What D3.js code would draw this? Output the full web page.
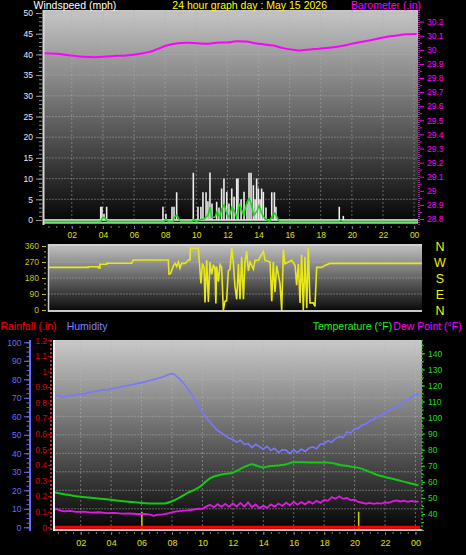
<!DOCTYPE html>
<html><head><meta charset="utf-8">
<script src="https://cdn.jsdelivr.net/npm/d3@7"></script>
<style>
body{margin:0;background:#000;}
svg{display:block;}
text{font-family:"Liberation Sans",Arial,sans-serif;}
</style>
</head><body>
<svg id="c" width="466" height="555"></svg>
<script>
// ---------------- DATA ----------------
const titleMain = "24 hour graph day : May 15 2026";
const hourTicks = [2,4,6,8,10,12,14,16,18,20,22,24];
const hourLabels = ["02","04","06","08","10","12","14","16","18","20","22","00"];

const windTicks = [0,5,10,15,20,25,30,35,40,45,50];
const baroTicks = [28.8,28.9,29.0,29.1,29.2,29.3,29.4,29.5,29.6,29.7,29.8,29.9,30.0,30.1,30.2];
const baroLabels = ["28.8","28.9","29","29.1","29.2","29.3","29.4","29.5","29.6","29.7","29.8","29.9","30","30.1","30.2"];
const dirTicks = [0,90,180,270,360];
const compassLabels = ["N","W","S","E","N"];
const humTicks = [0,10,20,30,40,50,60,70,80,90,100];
const rainTicks = [0,0.1,0.2,0.3,0.4,0.5,0.6,0.7,0.8,0.9,1.0,1.1,1.2];
const rainLabels = ["0","0.1","0.2","0.3","0.4","0.5","0.6","0.7","0.8","0.9","1","1.1","1.2"];
const tempTicks = [40,50,60,70,80,90,100,110,120,130,140];

// wind gusts (hour, mph)
const gustTime  = [3.86,3.94,4.07,4.24,7.86,8.05,8.44,8.57,8.74,9.81,10.11,10.30,10.43,10.63,10.75,10.88,11.01,11.31,11.46,11.63,11.78,11.96,12.10,12.28,12.43,12.60,12.68,12.88,13.07,13.26,13.39,13.52,13.67,13.78,13.88,13.99,14.10,14.20,14.31,14.48,14.85,15.02,15.12,19.19,19.45];
const gustValue = [3.2,3.2,1.5,3.2,3.2,1.5,3.2,3.2,6.7,11.4,3.2,3.2,6.7,6.7,4.5,11.5,4.0,4.4,3.0,7.6,10.0,6.8,4.0,7.6,5.6,10.0,10.0,5.0,6.8,4.0,11.4,11.4,8.4,5.0,10.0,7.6,5.0,7.6,6.8,3.0,6.7,6.7,3.2,3.2,1.0];
// average wind (hour, mph)
const avgTime  = [0.15,3.85,4.0,4.15,4.3,7.9,8.05,8.2,8.5,8.6,8.75,8.9,9.0,9.7,9.85,10.0,10.2,10.5,10.75,10.9,11.0,11.2,11.35,11.5,11.65,11.8,11.95,12.1,12.3,12.45,12.6,12.75,12.9,13.05,13.25,13.4,13.55,13.7,13.9,14.05,14.2,14.35,14.5,14.7,14.9,15.05,15.2,15.35,19.2,19.3,19.4,24.25];
const avgValue = [0,0,1.0,0.8,0,0,0.6,0,0,1.2,1.5,0.5,0,0,0.5,0,0.4,0.6,1.5,3.5,1.0,1.0,2.5,1.0,3.1,4.0,2.0,1.0,3.5,2.5,1.0,4.2,3.0,1.5,4.5,5.6,4.0,1.5,2.5,3.9,2.0,1.0,0.5,0,1.5,2.0,1.0,0,0,0.3,0,0];
// barometer (hour, inHg)
const baroTime  = [0.17,1.0,1.8,2.74,3.5,4.2,4.89,5.5,6.17,7.0,7.5,8.1,8.7,9.39,10.0,10.67,11.3,12.0,12.6,13.2,13.88,14.4,14.95,15.6,16.24,16.7,17.1,17.9,18.81,19.6,20.31,21.2,22.02,22.8,23.52,24.17];
const baroValue = [29.975,29.972,29.962,29.950,29.948,29.952,29.957,29.960,29.968,29.985,30.005,30.030,30.045,30.050,30.047,30.043,30.050,30.052,30.060,30.058,30.045,30.038,30.030,30.012,30.000,29.995,30.000,30.008,30.018,30.033,30.050,30.068,30.088,30.100,30.110,30.112];
// wind direction (hour, degrees)
const dirTime  = [0.15,3.06,3.06,3.71,3.71,3.81,3.81,4.24,4.24,5.85,5.95,8.20,8.25,8.35,8.45,8.53,8.64,8.74,8.85,8.95,9.06,9.28,9.38,9.49,9.60,9.62,10.13,10.20,10.30,10.40,10.50,10.56,10.67,10.78,10.88,10.99,11.10,11.20,11.26,11.31,11.42,11.53,11.63,11.74,11.85,11.95,12.06,12.17,12.28,12.38,12.49,12.60,12.71,12.81,12.92,13.03,13.13,13.24,13.35,13.46,13.67,13.78,13.99,14.31,14.42,14.74,14.85,14.95,15.06,15.17,15.38,15.49,15.60,15.70,15.92,16.13,16.35,16.45,16.56,16.67,16.77,16.88,16.99,17.10,17.20,17.31,17.52,17.63,17.74,18.06,18.27,18.59,24.5];
const dirValue = [240,240,243,243,236,236,257,257,263,263,281,281,202,205,230,250,262,245,270,236,262,262,270,281,281,347,347,270,150,262,240,43,280,45,270,200,250,240,36,245,160,255,240,0,50,52,220,230,350,270,130,60,260,60,300,60,270,330,220,270,230,280,280,330,280,270,50,270,100,250,150,0,340,260,270,280,250,140,260,40,310,0,300,10,350,40,40,20,240,240,250,262,262];
// humidity (hour, %)
const humTime  = [0.2,0.25,0.5,0.75,1.0,1.25,1.5,1.75,2.0,2.25,2.5,2.75,3.0,3.25,3.5,3.75,4.0,4.25,4.5,4.75,5.0,5.25,5.5,5.75,6.0,6.25,6.5,6.75,7.0,7.25,7.5,7.75,8.0,8.25,8.5,8.75,9.0,9.25,9.5,9.75,10.0,10.25,10.5,10.75,11.0,11.25,11.5,11.75,12.0,12.25,12.5,12.75,13.0,13.25,13.5,13.75,14.0,14.25,14.5,14.75,15.0,15.25,15.5,15.75,16.0,16.25,16.5,16.75,17.0,17.25,17.5,17.75,18.0,18.25,18.5,18.75,19.0,19.25,19.5,19.75,20.0,20.25,20.5,20.75,21.0,21.25,21.5,21.75,22.0,22.25,22.5,22.75,23.0,23.25,23.5,23.75,24.0,24.2];
const humValue = [70.5,70.5,71.5,70.2,70.8,71.3,71.0,71.8,72.2,72.0,72.8,73.1,73.5,73.9,74.4,74.2,74.9,75.3,75.6,76.2,76.5,76.9,77.3,77.8,78.2,78.6,79.3,79.8,80.3,80.9,81.6,82.4,83.2,82.0,80.2,78.0,75.3,72.4,69.3,65.8,62.0,59.4,56.8,54.5,52.3,51.0,49.6,48.2,47.5,46.0,47.2,44.8,45.3,43.1,44.9,43.6,42.2,43.8,41.5,42.7,40.3,42.0,41.6,39.8,41.9,40.4,42.3,41.0,42.8,43.5,42.4,44.9,45.2,46.8,45.9,48.1,49.0,48.5,51.6,51.0,53.2,53.6,55.4,55.8,57.6,58.3,59.7,60.6,61.8,62.9,64.1,65.3,66.5,67.8,69.0,70.3,71.6,72.2];
// temperature (hour, F)
const tempTime  = [0.2,0.5,1.0,1.5,2.0,2.5,3.0,3.5,4.0,4.5,5.0,5.5,6.0,6.5,7.0,7.5,8.0,8.5,9.0,9.5,9.85,10.2,10.5,11.0,11.5,12.0,12.4,12.8,13.25,13.6,14.0,14.46,15.0,15.4,16.0,16.5,17.0,17.5,18.0,18.4,19.06,19.7,20.4,21.0,21.5,22.0,22.8,23.5,24.2];
const tempValue = [53.5,53.0,52.2,51.4,50.8,50.3,49.8,49.3,48.8,48.3,47.8,47.3,46.9,46.6,46.5,46.6,47.9,50.2,53.0,55.2,57.0,60.0,62.2,64.0,65.0,65.7,67.5,69.5,70.9,70.0,69.0,69.9,70.2,70.6,72.2,72.2,72.1,72.1,72.0,71.9,70.5,69.6,68.4,66.2,64.3,63.0,61.2,59.4,57.8];
// dew point (hour, F)
const dewTime  = [0.2,0.4,0.6,0.9,1.3,1.7,2.2,2.7,3.2,3.7,4.2,4.7,5.2,5.7,6.2,6.6,6.8,7.0,7.4,7.8,8.2,8.6,9.0,9.4,9.8,10.0,10.25,10.5,10.75,11.0,11.25,11.5,11.75,12.0,12.25,12.5,12.75,13.0,13.25,13.5,13.75,14.0,14.25,14.5,14.75,15.0,15.25,15.5,15.75,16.0,16.25,16.5,16.75,17.0,17.25,17.5,17.75,18.0,18.25,18.5,18.75,19.0,19.25,19.5,19.75,20.0,20.25,20.5,20.75,21.0,21.25,21.5,21.75,22.0,22.25,22.5,22.75,23.0,23.25,23.5,23.75,24.0,24.2];
const dewValue = [42.5,43.2,42.4,41.6,41.9,41.3,41.5,40.9,41.1,40.6,40.7,40.2,40.3,40.0,40.1,39.6,38.9,39.5,39.8,40.6,41.5,41.9,42.3,42.8,43.4,43.2,44.6,45.8,44.2,46.1,44.5,46.3,44.4,46.6,44.7,46.9,44.6,47.2,44.3,45.9,43.6,45.2,43.8,46.0,44.6,46.5,45.0,47.1,45.4,47.6,45.8,47.4,46.0,47.9,46.4,48.2,46.9,48.8,48.2,50.6,49.5,51.0,49.4,50.0,48.6,48.9,47.5,47.0,46.4,46.9,46.3,46.8,46.5,47.2,47.0,47.9,48.5,47.8,48.3,47.6,48.1,47.5,47.8];
// rainfall (hour, in)
const rainTime  = [0.2,24.3];
const rainValue = [0,0];
// sunrise / sunset markers (hour)
const sunTimes = [6.02,20.27];
const sunHeight = 0.1;

// ---------------- DRAW ----------------
const svg = d3.select("#c");
svg.append("rect").attr("width",466).attr("height",555).attr("fill","#000");
const defs = svg.append("defs");
function grad(id,c0,c1){
  const g = defs.append("linearGradient").attr("id",id).attr("x1",0).attr("y1",0).attr("x2",0).attr("y2",1);
  g.append("stop").attr("offset","0%").attr("stop-color",c0);
  g.append("stop").attr("offset","100%").attr("stop-color",c1);
}
grad("g1","#c6c6c6","#020202");
grad("g2","#c4c4c4","#060606");
grad("g3","#cacaca","#030303");
function clip(id,x,y,w,h){ defs.append("clipPath").attr("id",id).append("rect").attr("x",x).attr("y",y).attr("width",w).attr("height",h); }

function styleAxis(g, lineColor, textColor, fs){
  g.select(".domain").remove();
  g.selectAll("line").attr("stroke",lineColor);
  g.selectAll("text").attr("fill",textColor).style("font-size",fs+"px").attr("font-family","Liberation Sans, Arial, sans-serif");
}
function zip(t,v){ return t.map((d,i)=>[d,v[i]]); }

// ===== Panel 1: wind / barometer =====
const P1 = {l:43,r:418,t:10,b:225};
const x1 = d3.scaleLinear().domain([0.15,24.25]).range([P1.l,P1.r]);
const yWind = d3.scaleLinear().domain([0,50]).range([220,13]);
const yBaro = d3.scaleLinear().domain([28.8,30.2]).range([219,21.6]);
clip("c1",P1.l,P1.t,P1.r-P1.l,P1.b-P1.t);
svg.append("rect").attr("x",P1.l).attr("y",P1.t).attr("width",P1.r-P1.l).attr("height",P1.b-P1.t).attr("fill","url(#g1)");
const p1 = svg.append("g").attr("clip-path","url(#c1)");
p1.selectAll("line.hg").data(windTicks.slice(1)).join("line").attr("class","hg")
  .attr("x1",P1.l).attr("x2",P1.r).attr("y1",d=>yWind(d)).attr("y2",d=>yWind(d))
  .attr("stroke","#b0b0b0").attr("stroke-opacity",0.45).attr("stroke-dasharray","2,1");
p1.selectAll("line.vg").data(hourTicks).join("line").attr("class","vg")
  .attr("x1",d=>x1(d)).attr("x2",d=>x1(d)).attr("y1",P1.t).attr("y2",P1.b)
  .attr("stroke","#b0b0b0").attr("stroke-opacity",0.5).attr("stroke-dasharray","2,2");
// baselines
p1.append("line").attr("x1",P1.l).attr("x2",P1.r).attr("y1",yWind(0)).attr("y2",yWind(0)).attr("stroke","#bdbdbd").attr("stroke-width",2);
p1.append("line").attr("x1",P1.l).attr("x2",P1.r).attr("y1",222.8).attr("y2",222.8).attr("stroke","#8ee08e").attr("stroke-width",2);
// gust bars
p1.selectAll("line.gust").data(zip(gustTime,gustValue)).join("line").attr("class","gust")
  .attr("x1",d=>x1(d[0])).attr("x2",d=>x1(d[0])).attr("y1",yWind(0)).attr("y2",d=>yWind(d[1]))
  .attr("stroke","#ececec").attr("stroke-width",1.6);
// avg wind
p1.append("path").datum(zip(avgTime,avgValue))
  .attr("d",d3.line().x(d=>x1(d[0])).y(d=>yWind(d[1])+1.5))
  .attr("fill","none").attr("stroke","#11dd11").attr("stroke-width",1.5);
// barometer
p1.append("path").datum(zip(baroTime,baroValue))
  .attr("d",d3.line().curve(d3.curveMonotoneX).x(d=>x1(d[0])).y(d=>yBaro(d[1])))
  .attr("fill","none").attr("stroke","#ff00ff").attr("stroke-width",2);
// edges
svg.append("line").attr("x1",P1.l+0.5).attr("x2",P1.l+0.5).attr("y1",P1.t).attr("y2",P1.b).attr("stroke","#d8d8d8").attr("stroke-width",2);
svg.append("line").attr("x1",P1.r+1).attr("x2",P1.r+1).attr("y1",P1.t).attr("y2",P1.b).attr("stroke","#ff66ff").attr("stroke-width",1).attr("stroke-dasharray","1,1");
// axes
const aW = svg.append("g").attr("transform","translate(42,0)")
  .call(d3.axisLeft(yWind).tickValues(windTicks).tickSize(6).tickPadding(3));
styleAxis(aW,"#9a9a9a","#e6ecff",8.5);
const aWm = svg.append("g").attr("transform","translate(42,0)")
  .call(d3.axisLeft(yWind).tickValues(d3.range(0,51,1)).tickSize(3).tickFormat(""));
styleAxis(aWm,"#8a8a8a","#fff",8);
const aB = svg.append("g").attr("transform","translate(420,0)")
  .call(d3.axisRight(yBaro).tickValues(baroTicks).tickSize(4).tickPadding(3).tickFormat((d,i)=>baroLabels[i]));
styleAxis(aB,"#ff00ff","#ff00ff",8.5);
const aBm = svg.append("g").attr("transform","translate(420,0)")
  .call(d3.axisRight(yBaro).tickValues(d3.range(28.85,30.2,0.1)).tickSize(2).tickFormat(""));
styleAxis(aBm,"#ff00ff","#f0f",8);
const aT1 = svg.append("g").attr("transform","translate(0,226)")
  .call(d3.axisBottom(x1).tickValues(hourTicks).tickSize(3).tickPadding(3).tickFormat((d,i)=>hourLabels[i]));
styleAxis(aT1,"#8a8a8a","#e0e000",8.5);
const aT1m = svg.append("g").attr("transform","translate(0,226)")
  .call(d3.axisBottom(x1).tickValues(d3.range(0.5,24.1,0.5)).tickSize(2).tickFormat(""));
styleAxis(aT1m,"#7a7a7a","#fff",8);

// titles
const ttl = [
  {t:"Windspeed (mph)",x:33.5,y:8.8,c:"#ffffff",a:"start"},
  {t:titleMain,x:172.3,y:8.8,c:"#ffff00",a:"start"},
  {t:"Barometer (.in)",x:421,y:8.8,c:"#ff00ff",a:"end"},
  {t:"Rainfall (.in)",x:0.5,y:329.5,c:"#ff0000",a:"start"},
  {t:"Humidity",x:66.7,y:329.5,c:"#8080ff",a:"start"},
  {t:"Temperature (°F)",x:312.7,y:329.5,c:"#22ee22",a:"start"},
  {t:"Dew Point (°F)",x:461.7,y:329.5,c:"#ff00ff",a:"end"}
];
svg.selectAll("text.ttl").data(ttl).join("text").attr("class","ttl")
  .attr("x",d=>d.x).attr("y",d=>d.y).attr("fill",d=>d.c).attr("text-anchor",d=>d.a)
  .style("font-size","10.5px").text(d=>d.t);

// ===== Panel 2: wind direction =====
const P2 = {l:48,r:422,t:244,b:312};
const yDir = d3.scaleLinear().domain([0,360]).range([310,246]);
clip("c2",P2.l,P2.t,P2.r-P2.l,P2.b-P2.t);
svg.append("rect").attr("x",P2.l).attr("y",P2.t).attr("width",P2.r-P2.l).attr("height",P2.b-P2.t).attr("fill","url(#g2)");
const p2 = svg.append("g").attr("clip-path","url(#c2)");
p2.selectAll("line.hg").data(dirTicks.slice(1,4)).join("line").attr("class","hg")
  .attr("x1",P2.l).attr("x2",P2.r).attr("y1",d=>yDir(d)).attr("y2",d=>yDir(d))
  .attr("stroke","#b8b8b8").attr("stroke-opacity",0.45).attr("stroke-dasharray","2,1");
p2.append("line").attr("x1",P2.l).attr("x2",P2.r).attr("y1",P2.t+1).attr("y2",P2.t+1).attr("stroke","#d0d0d0").attr("stroke-width",2);
p2.append("line").attr("x1",P2.l).attr("x2",P2.r).attr("y1",P2.b-1).attr("y2",P2.b-1).attr("stroke","#c8c8c8").attr("stroke-width",2);
p2.append("path").datum(zip(dirTime,dirValue))
  .attr("d",d3.line().x(d=>x1(d[0])).y(d=>yDir(d[1])))
  .attr("fill","none").attr("stroke","#e8e818").attr("stroke-width",1.6);
svg.append("line").attr("x1",P2.l+0.5).attr("x2",P2.l+0.5).attr("y1",P2.t).attr("y2",P2.b).attr("stroke","#d0d0d0").attr("stroke-width",1.5);
const aD = svg.append("g").attr("transform","translate(46,0)")
  .call(d3.axisLeft(yDir).tickValues(dirTicks).tickSize(4).tickPadding(3));
styleAxis(aD,"#c8c800","#c8c800",8.5);
const aDm = svg.append("g").attr("transform","translate(46,0)")
  .call(d3.axisLeft(yDir).tickValues(d3.range(0,361,30)).tickSize(2).tickFormat(""));
styleAxis(aDm,"#b0b000","#fff",8);
svg.selectAll("text.cmp").data(dirTicks).join("text").attr("class","cmp")
  .attr("x",440).attr("y",d=>yDir(d)+4.5).attr("text-anchor","middle")
  .attr("fill","#f0f000").style("font-size","12.5px").text((d,i)=>compassLabels[compassLabels.length-1-i]);

// ===== Panel 3: rain / humidity / temp / dew =====
const P3 = {l:53,r:422,t:340,b:531};
const x3 = d3.scaleLinear().domain([0.2,24.3]).range([53.3,420]);
const yHum = d3.scaleLinear().domain([0,100]).range([527.3,342.3]);
const yRain = d3.scaleLinear().domain([0,1.2]).range([527.3,340.3]);
const yTemp = d3.scaleLinear().domain([40,140]).range([514,353.3]);
clip("c3",P3.l,P3.t,P3.r-P3.l,P3.b-P3.t);
svg.append("rect").attr("x",P3.l).attr("y",P3.t).attr("width",P3.r-P3.l).attr("height",P3.b-P3.t).attr("fill","url(#g3)");
const p3 = svg.append("g").attr("clip-path","url(#c3)");
p3.selectAll("line.hg").data(humTicks.slice(1)).join("line").attr("class","hg")
  .attr("x1",P3.l).attr("x2",P3.r).attr("y1",d=>yHum(d)).attr("y2",d=>yHum(d))
  .attr("stroke","#b8b8b8").attr("stroke-opacity",0.45).attr("stroke-dasharray","2,1");
p3.selectAll("line.vg").data(hourTicks).join("line").attr("class","vg")
  .attr("x1",d=>x3(d)).attr("x2",d=>x3(d)).attr("y1",P3.t).attr("y2",P3.b)
  .attr("stroke","#b8b8b8").attr("stroke-opacity",0.5).attr("stroke-dasharray","2,2");
p3.append("line").attr("x1",P3.l).attr("x2",P3.r).attr("y1",P3.b-1).attr("y2",P3.b-1).attr("stroke","#c0c0c0").attr("stroke-width",2);
p3.selectAll("line.sun").data(sunTimes).join("line").attr("class","sun")
  .attr("x1",d=>x3(d)).attr("x2",d=>x3(d)).attr("y1",yRain(sunHeight)).attr("y2",P3.b)
  .attr("stroke","#d0d000").attr("stroke-width",1.5);
p3.append("path").datum(zip(humTime,humValue))
  .attr("d",d3.line().x(d=>x3(d[0])).y(d=>yHum(d[1])))
  .attr("fill","none").attr("stroke","#7878ff").attr("stroke-width",1.6);
p3.append("path").datum(zip(tempTime,tempValue))
  .attr("d",d3.line().curve(d3.curveMonotoneX).x(d=>x3(d[0])).y(d=>yTemp(d[1])))
  .attr("fill","none").attr("stroke","#14c814").attr("stroke-width",2);
p3.append("path").datum(zip(dewTime,dewValue))
  .attr("d",d3.line().x(d=>x3(d[0])).y(d=>yTemp(d[1])))
  .attr("fill","none").attr("stroke","#e418e4").attr("stroke-width",1.8);
p3.append("path").datum(zip(rainTime,rainValue))
  .attr("d",d3.line().x(d=>x3(d[0])).y(d=>yRain(d[1])))
  .attr("fill","none").attr("stroke","#ff0000").attr("stroke-width",3);
svg.append("line").attr("x1",P3.l+1).attr("x2",P3.l+1).attr("y1",P3.t).attr("y2",P3.b).attr("stroke","#f0f0f0").attr("stroke-width",2);
// humidity axis
svg.append("line").attr("x1",30).attr("x2",30).attr("y1",P3.t).attr("y2",P3.b).attr("stroke","#6a6aff").attr("stroke-width",2);
const aH = svg.append("g").attr("transform","translate(29,0)")
  .call(d3.axisLeft(yHum).tickValues(humTicks).tickSize(5).tickPadding(2.5));
styleAxis(aH,"#6a6aff","#6a6aff",8.5);
const aHm = svg.append("g").attr("transform","translate(29,0)")
  .call(d3.axisLeft(yHum).tickValues(d3.range(0,101,2.5)).tickSize(2.5).tickFormat(""));
styleAxis(aHm,"#6a6aff","#fff",8);
// rain axis
svg.append("line").attr("x1",51).attr("x2",51).attr("y1",P3.t).attr("y2",P3.b).attr("stroke","#ff3030").attr("stroke-width",1.5).attr("stroke-dasharray","2,2");
const aR = svg.append("g").attr("transform","translate(51,0)")
  .call(d3.axisLeft(yRain).tickValues(rainTicks).tickSize(3).tickPadding(1).tickFormat((d,i)=>rainLabels[i]));
styleAxis(aR,"#e00000","#e00000",8.5);
// temp axis
svg.append("line").attr("x1",P3.r).attr("x2",P3.r).attr("y1",P3.t).attr("y2",P3.b).attr("stroke","#22cc22").attr("stroke-width",1.5).attr("stroke-dasharray","1.5,2");
const aTp = svg.append("g").attr("transform","translate(422,0)")
  .call(d3.axisRight(yTemp).tickValues(tempTicks).tickSize(3).tickPadding(3));
styleAxis(aTp,"#22cc22","#22dd22",8.5);
const aTpm = svg.append("g").attr("transform","translate(422,0)")
  .call(d3.axisRight(yTemp).tickValues(d3.range(30,150,5)).tickSize(2).tickFormat(""));
styleAxis(aTpm,"#22cc22","#fff",8);
// time axis bottom
const aT3 = svg.append("g").attr("transform","translate(0,532)")
  .call(d3.axisBottom(x3).tickValues(hourTicks).tickSize(3).tickPadding(5).tickFormat((d,i)=>hourLabels[i]));
styleAxis(aT3,"#8a8a8a","#e0e000",9);
const aT3m = svg.append("g").attr("transform","translate(0,532)")
  .call(d3.axisBottom(x3).tickValues(d3.range(0.5,24.1,0.5)).tickSize(2).tickFormat(""));
styleAxis(aT3m,"#7a7a7a","#fff",8);
</script>
</body></html>
